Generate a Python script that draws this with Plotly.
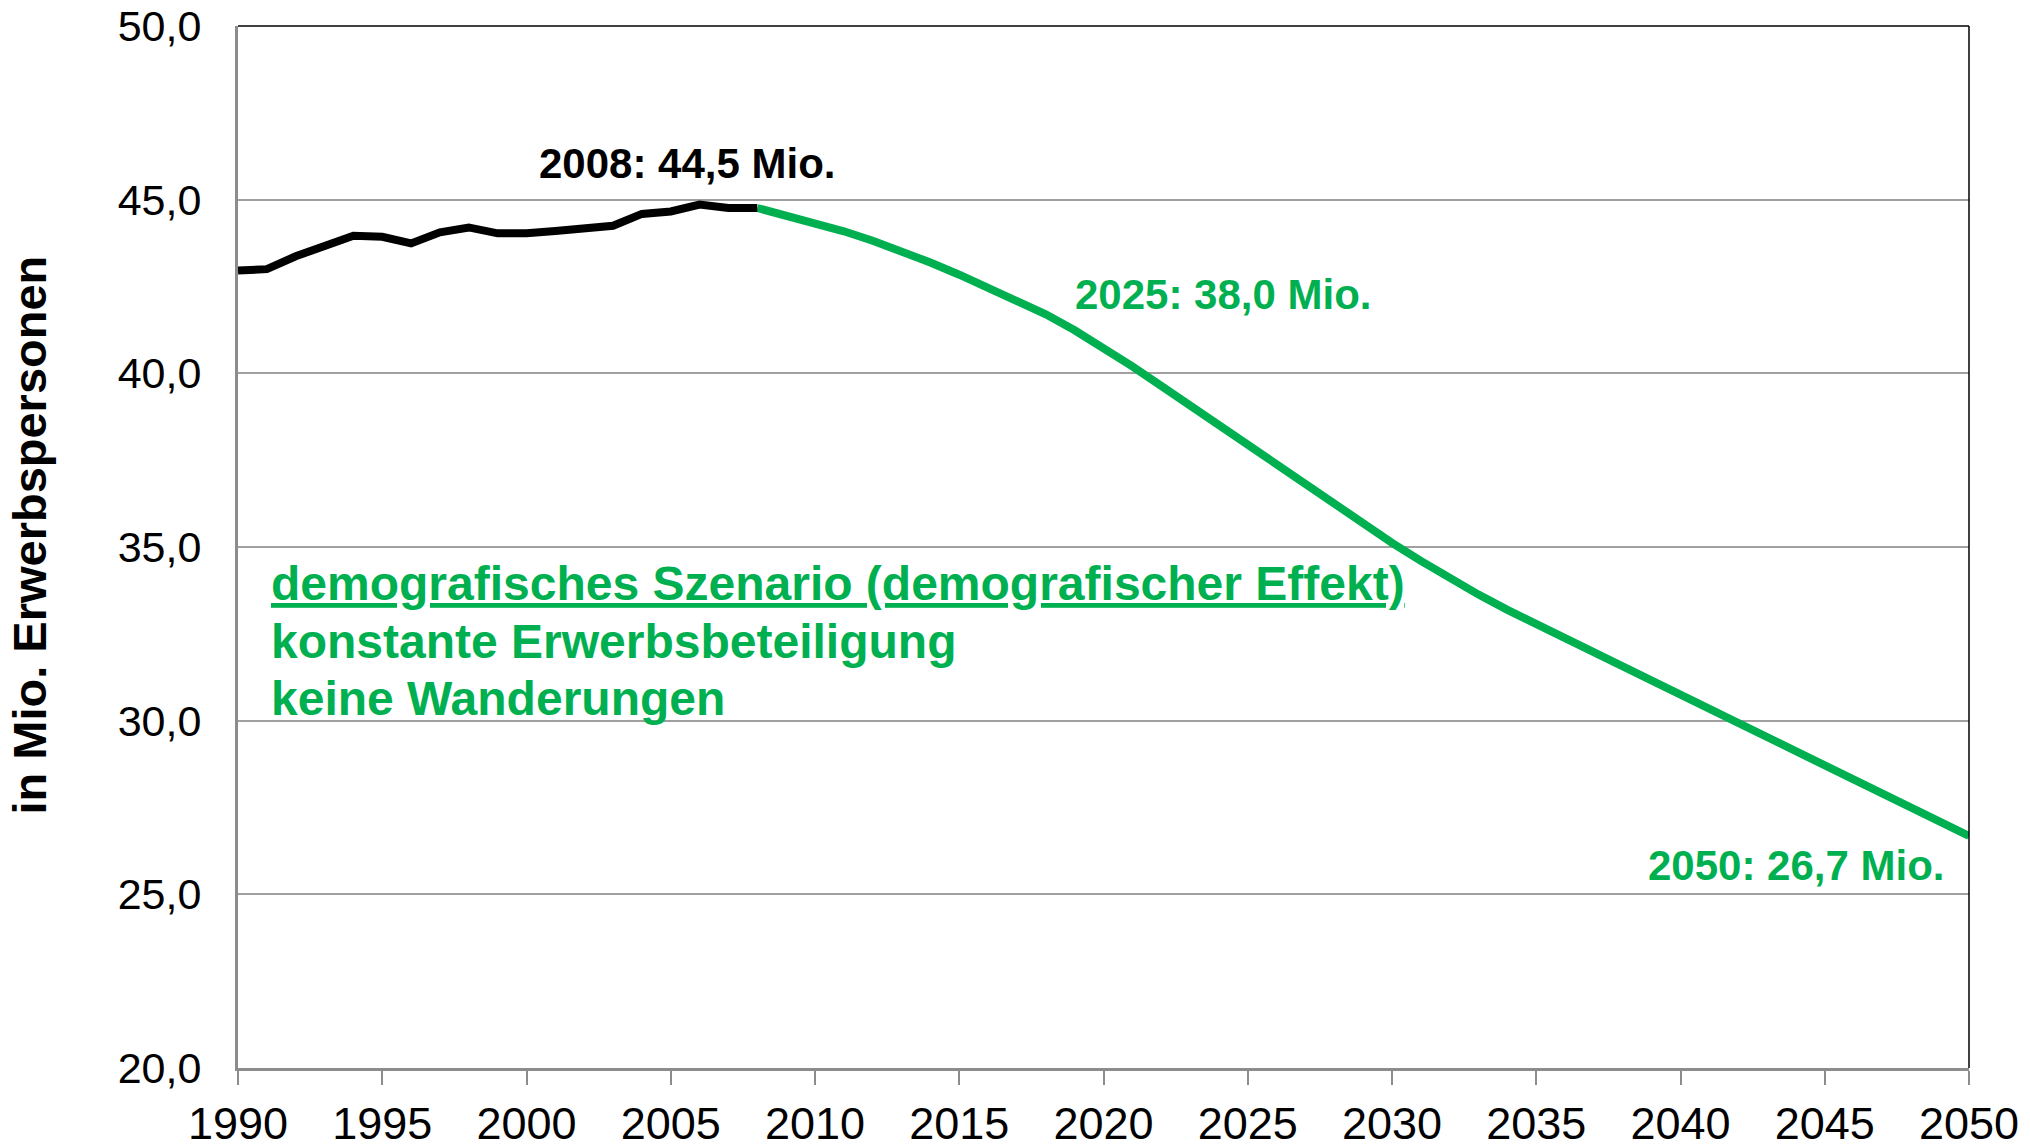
import plotly.graph_objects as go

# Historical labour force (black)
hist_years = list(range(1990, 2009))
hist_values = [42.96, 43.00, 43.37, 43.65, 43.96, 43.93, 43.74, 44.06, 44.20, 44.03,
               44.03, 44.10, 44.16, 44.25, 44.59, 44.66, 44.86, 44.76, 44.76]

# Demographic scenario projection (green)
proj_years = list(range(2008, 2051))
proj_values = [44.76, 44.55, 44.33, 44.09, 43.82, 43.52, 43.19, 42.84, 42.48, 42.10,
               41.70, 41.24, 40.74, 40.20, 39.64, 39.07, 38.50, 37.93, 37.36, 36.79,
               36.23, 35.67, 35.12, 34.60, 34.10, 33.63, 33.19, 32.78, 32.37, 31.96,
               31.55, 31.14, 30.73, 30.32, 29.91, 29.50, 29.09, 28.69, 28.28, 27.87,
               27.47, 27.07, 26.68]

x_ticks = list(range(1990, 2051, 5))
y_ticks = [20, 25, 30, 35, 40, 45, 50]
y_tick_labels = ["20,0", "25,0", "30,0", "35,0", "40,0", "45,0", "50,0"]

GREEN = "#00B050"
FONT = "Liberation Sans, Arial, sans-serif"

fig = go.Figure()
fig.add_trace(go.Scatter(x=proj_years, y=proj_values, mode="lines",
                         line=dict(color=GREEN, width=8), showlegend=False))
fig.add_trace(go.Scatter(x=hist_years, y=hist_values, mode="lines",
                         line=dict(color="black", width=8), showlegend=False))

fig.update_layout(
    width=2030, height=1148,
    margin=dict(l=238, r=61, t=26, b=80),
    paper_bgcolor="white", plot_bgcolor="white",
    font=dict(family=FONT, color="black"),
    xaxis=dict(range=[1990, 2050], tickvals=x_ticks, ticks="outside", ticklen=14,
               tickcolor="#8C8C8C", tickwidth=2, showgrid=False, showline=True,
               linecolor="#8C8C8C", linewidth=3, mirror=False, zeroline=False,
               automargin=False, ticklabeloverflow="allow",
               tickfont=dict(size=45, family=FONT), ticklabelstandoff=0),
    yaxis=dict(range=[20, 50], tickvals=y_ticks, ticktext=y_tick_labels, showgrid=True,
               gridcolor="#A0A0A0", gridwidth=2, showline=True, linecolor="#8C8C8C",
               linewidth=3, zeroline=False, ticks="", automargin=False,
               ticklabeloverflow="allow",
               tickfont=dict(size=43, family=FONT), ticklabelstandoff=25),
)

# black border on top and right of plot area
fig.add_shape(type="line", xref="paper", yref="paper", x0=0, x1=1, y0=1, y1=1,
              line=dict(color="black", width=1.5))
fig.add_shape(type="line", xref="paper", yref="paper", x0=1, x1=1, y0=0, y1=1,
              line=dict(color="black", width=1.5))

# y-axis title
fig.add_annotation(text="<b>in Mio. Erwerbspersonen</b>", xref="paper", yref="paper",
                   x=-0.121, y=0.5115, textangle=-90, showarrow=False,
                   xanchor="center", yanchor="middle",
                   font=dict(size=47, family=FONT, color="black"))

fig.add_annotation(text="<b>2008: 44,5 Mio.</b>", x=2005.56, y=46.03, showarrow=False,
                   xanchor="center", yanchor="middle",
                   font=dict(size=42, family=FONT, color="black"))
fig.add_annotation(text="<b>2025: 38,0 Mio.</b>", x=2024.14, y=42.28, showarrow=False,
                   xanchor="center", yanchor="middle",
                   font=dict(size=42, family=FONT, color=GREEN))
fig.add_annotation(text="<b>2050: 26,7 Mio.</b>", x=2044.02, y=25.84, showarrow=False,
                   xanchor="center", yanchor="middle",
                   font=dict(size=42, family=FONT, color=GREEN))

block_lines = ["<u><b>demografisches Szenario (demografischer Effekt)</b></u>",
               "<b>konstante Erwerbsbeteiligung</b>",
               "<b>keine Wanderungen</b>"]
block_y = [33.96, 32.29, 30.65]
for txt, yy in zip(block_lines, block_y):
    fig.add_annotation(text=txt, x=1991.07, y=yy, showarrow=False,
                       xanchor="left", yanchor="middle",
                       font=dict(size=48, family=FONT, color=GREEN))

fig.write_html("out.html", config={"displayModeBar": False},
               post_script="document.body.style.margin='0';document.body.style.overflow='hidden';")
